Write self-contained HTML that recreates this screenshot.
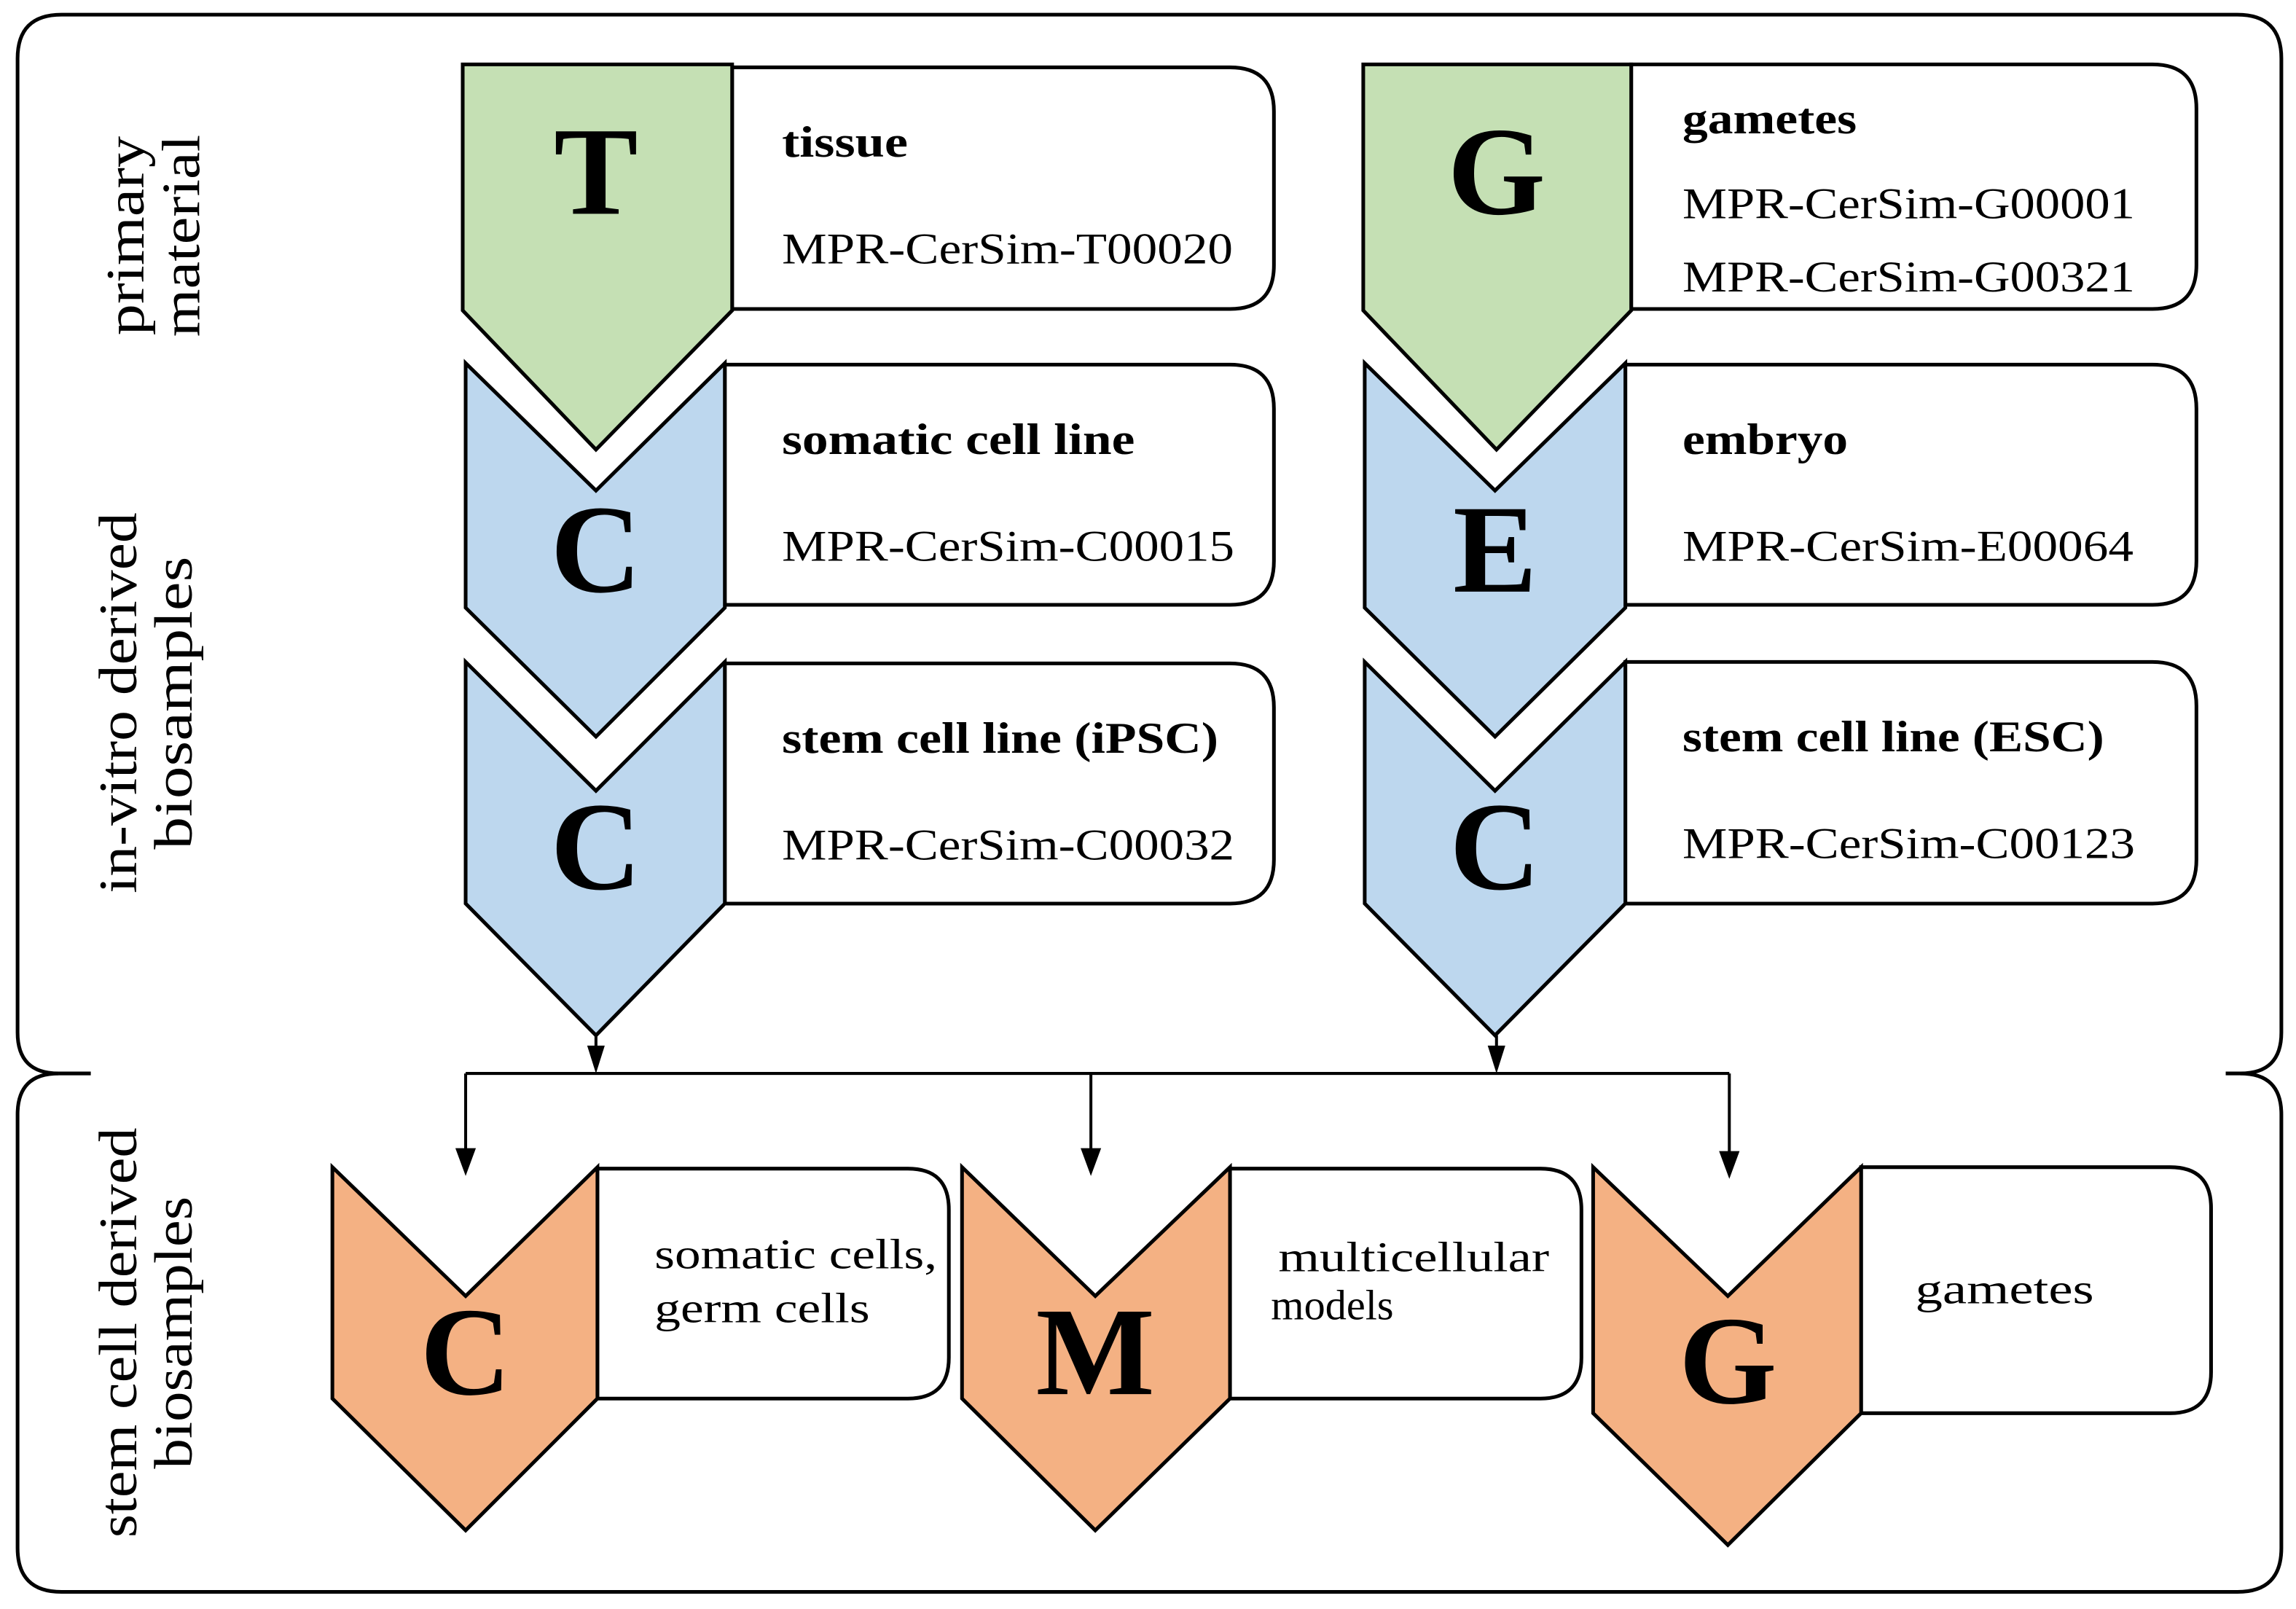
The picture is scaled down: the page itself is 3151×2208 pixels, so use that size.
<!DOCTYPE html>
<html><head><meta charset="utf-8"><style>
html,body{margin:0;padding:0;background:#fff}
svg{display:block}
text{font-family:"Liberation Serif",serif;fill:#000}
</style></head><body>
<svg width="3151" height="2208" viewBox="0 0 1568 1098.7" preserveAspectRatio="none" xmlns="http://www.w3.org/2000/svg">
<g fill="none" stroke="#000" stroke-width="2.5">
<path d="M40,733 Q12,733 12,705 L12,40 Q12,10 42,10 L1528,10 Q1558,10 1558,40 L1558,705 Q1558,733 1530,733 L1520,733"/>
<path d="M40,733 L62,733"/>
<path d="M40,733 Q12,733 12,761 L12,1057 Q12,1087 42,1087 L1528,1087 Q1558,1087 1558,1057 L1558,761 Q1558,733 1530,733"/>
</g>
<g stroke="#000" stroke-width="2.5">
<path d="M500,46 L840,46 Q870,46 870,76 L870,181 Q870,211 840,211 L500,211 Z" fill="#fff"/>
<path d="M495,249 L840,249 Q870,249 870,279 L870,383 Q870,413 840,413 L495,413 Z" fill="#fff"/>
<path d="M495,453 L840,453 Q870,453 870,483 L870,587 Q870,617 840,617 L495,617 Z" fill="#fff"/>
<path d="M1114,44 L1470,44 Q1500,44 1500,74 L1500,181 Q1500,211 1470,211 L1114,211 Z" fill="#fff"/>
<path d="M1110,249 L1470,249 Q1500,249 1500,279 L1500,383 Q1500,413 1470,413 L1110,413 Z" fill="#fff"/>
<path d="M1110,452 L1470,452 Q1500,452 1500,482 L1500,587 Q1500,617 1470,617 L1110,617 Z" fill="#fff"/>
<path d="M408,798 L620,798 Q648,798 648,826 L648,927 Q648,955 620,955 L408,955 Z" fill="#fff"/>
<path d="M840,798 L1052,798 Q1080,798 1080,826 L1080,927 Q1080,955 1052,955 L840,955 Z" fill="#fff"/>
<path d="M1271,797 L1482,797 Q1510,797 1510,825 L1510,937 Q1510,965 1482,965 L1271,965 Z" fill="#fff"/>
<polygon points="316,44 500,44 500,212 407,307 316,212" fill="#c5e0b4"/>
<polygon points="318,248 407,335 495,248 495,415 407,503 318,415" fill="#bdd7ee"/>
<polygon points="318,452 407,540 495,452 495,617 407,707 318,617" fill="#bdd7ee"/>
<polygon points="931,44 1114,44 1114,212 1022,307 931,212" fill="#c5e0b4"/>
<polygon points="932,248 1021,335 1110,248 1110,415 1021,503 932,415" fill="#bdd7ee"/>
<polygon points="932,452 1021,540 1110,452 1110,617 1021,707 932,617" fill="#bdd7ee"/>
<polygon points="227,797 318,885 408,797 408,955 318,1045 227,955" fill="#f4b183"/>
<polygon points="657,797 748,885 840,797 840,955 748,1045 657,955" fill="#f4b183"/>
<polygon points="1088,797 1180,885 1271,797 1271,965 1180,1055 1088,965" fill="#f4b183"/>
</g>
<g stroke="#000" stroke-width="2" fill="none">
<path d="M407,707 L407,720 M1022,707 L1022,720 M318,733 L1181,733 M318,733 L318,788 M745,733 L745,788 M1181,733 L1181,790"/>
</g>
<g fill="#000">
<polygon points="401,714 413,714 407,733"/>
<polygon points="1016,714 1028,714 1022,733"/>
<polygon points="311,784 325,784 318,803"/>
<polygon points="738,784 752,784 745,803"/>
<polygon points="1174,786 1188,786 1181,805"/>
</g>
<g font-weight="bold" font-size="86" text-anchor="middle">
<text x="407" y="146">T</text>
<text x="407" y="404">C</text>
<text x="407" y="607">C</text>
<text x="1022" y="146">G</text>
<text x="1021" y="404">E</text>
<text x="1021" y="607">C</text>
<text x="318" y="952">C</text>
<text x="748" y="952">M</text>
<text x="1180" y="958">G</text>
</g>
<g font-size="30">
<text x="534" y="107" font-weight="bold" textLength="86" lengthAdjust="spacingAndGlyphs">tissue</text>
<text x="534" y="180" textLength="308" lengthAdjust="spacingAndGlyphs">MPR-CerSim-T00020</text>
<text x="534" y="310" font-weight="bold" textLength="241" lengthAdjust="spacingAndGlyphs">somatic cell line</text>
<text x="534" y="383" textLength="309" lengthAdjust="spacingAndGlyphs">MPR-CerSim-C00015</text>
<text x="534" y="514" font-weight="bold" textLength="298" lengthAdjust="spacingAndGlyphs">stem cell line (iPSC)</text>
<text x="534" y="587" textLength="309" lengthAdjust="spacingAndGlyphs">MPR-CerSim-C00032</text>
<text x="1149" y="91" font-weight="bold" textLength="119" lengthAdjust="spacingAndGlyphs">gametes</text>
<text x="1149" y="149" textLength="309" lengthAdjust="spacingAndGlyphs">MPR-CerSim-G00001</text>
<text x="1149" y="199" textLength="309" lengthAdjust="spacingAndGlyphs">MPR-CerSim-G00321</text>
<text x="1149" y="310" font-weight="bold" textLength="113" lengthAdjust="spacingAndGlyphs">embryo</text>
<text x="1149" y="383" textLength="308" lengthAdjust="spacingAndGlyphs">MPR-CerSim-E00064</text>
<text x="1149" y="513" font-weight="bold" textLength="288" lengthAdjust="spacingAndGlyphs">stem cell line (ESC)</text>
<text x="1149" y="586" textLength="309" lengthAdjust="spacingAndGlyphs">MPR-CerSim-C00123</text>
</g>
<g font-size="29">
<text x="447" y="866" textLength="193" lengthAdjust="spacingAndGlyphs">somatic cells,</text>
<text x="447" y="903" textLength="147" lengthAdjust="spacingAndGlyphs">germ cells</text>
<text x="873" y="868" textLength="185" lengthAdjust="spacingAndGlyphs">multicellular</text>
<text x="868" y="901">models</text>
<text x="1308" y="890" textLength="122" lengthAdjust="spacingAndGlyphs">gametes</text>
</g>
<g font-size="37" text-anchor="middle">
<text transform="translate(98,161) rotate(-90)"><tspan x="0" y="0" textLength="136" lengthAdjust="spacingAndGlyphs">primary</tspan><tspan x="0" y="38" textLength="138" lengthAdjust="spacingAndGlyphs">material</tspan></text>
<text transform="translate(93,480) rotate(-90)"><tspan x="0" y="0" textLength="260" lengthAdjust="spacingAndGlyphs">in-vitro derived</tspan><tspan x="0" y="38" textLength="200" lengthAdjust="spacingAndGlyphs">biosamples</tspan></text>
<text transform="translate(93,910) rotate(-90)"><tspan x="0" y="0" textLength="280" lengthAdjust="spacingAndGlyphs">stem cell derived</tspan><tspan x="0" y="38" textLength="186" lengthAdjust="spacingAndGlyphs">biosamples</tspan></text>
</g>
</svg>
</body></html>
